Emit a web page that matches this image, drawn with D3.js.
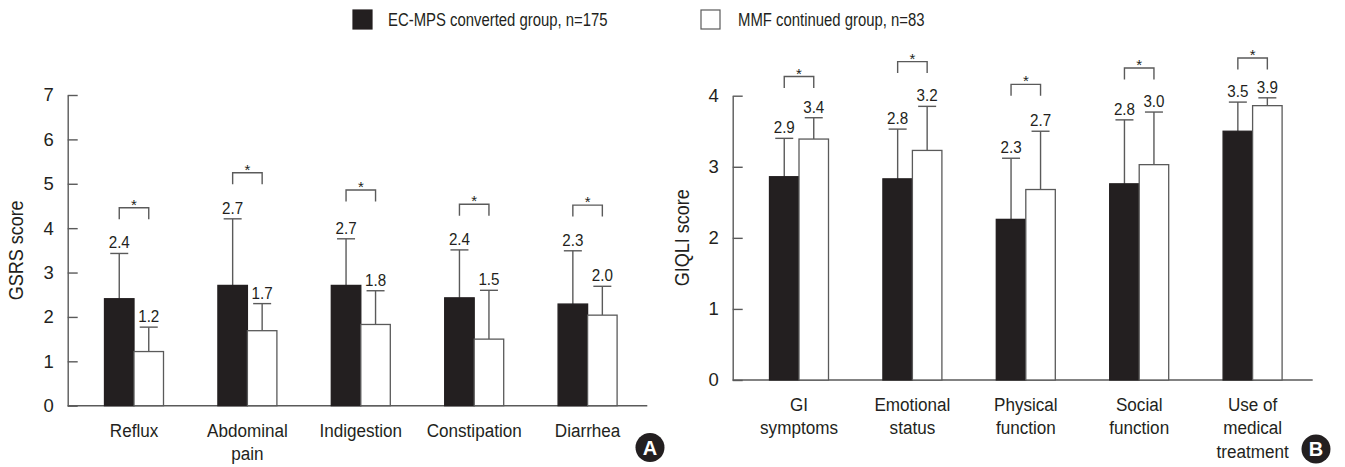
<!DOCTYPE html>
<html>
<head>
<meta charset="utf-8">
<script src="https://cdn.jsdelivr.net/npm/d3@7.9.0/dist/d3.min.js"></script>
<style>
  html, body { margin: 0; padding: 0; background: #fff; }
  svg { display: block; }
  text { font-family: "Liberation Sans", Arial, Helvetica, sans-serif; fill: #231f20; }
</style>
</head>
<body>
<svg id="chart" width="1345" height="467"></svg>
<script>
// legend
const seriesNames = ['EC-MPS converted group, n=175', 'MMF continued group, n=83'];

// panel A: GSRS
const gsrsCats = ['Reflux', 'Abdominal\npain', 'Indigestion', 'Constipation', 'Diarrhea'];
const gsrsEC = [2.41, 2.71, 2.71, 2.43, 2.29];
const gsrsEcSD = [1.02, 1.50, 1.05, 1.08, 1.20];
const gsrsMMF = [1.22, 1.69, 1.83, 1.50, 2.04];
const gsrsMmfSD = [0.55, 0.61, 0.76, 1.10, 0.65];
const gsrsSig = [4.46, 5.25, 4.86, 4.54, 4.52];
const gsrsTicks = [0, 1, 2, 3, 4, 5, 6, 7];

// panel B: GIQLI
const giqliCats = ['GI\nsymptoms', 'Emotional\nstatus', 'Physical\nfunction', 'Social\nfunction', 'Use of\nmedical\ntreatment'];
const giqliEC = [2.86, 2.83, 2.26, 2.76, 3.50];
const giqliEcSD = [0.54, 0.70, 0.86, 0.90, 0.41];
const giqliMMF = [3.39, 3.23, 2.68, 3.03, 3.86];
const giqliMmfSD = [0.30, 0.62, 0.82, 0.74, 0.11];
const giqliSig = [4.27, 4.48, 4.16, 4.39, 4.53];
const giqliTicks = [0, 1, 2, 3, 4];

const dark = '#231f20';
const grey = '#5a5a5a';
const svg = d3.select('#chart');

function drawPanel(p) {
  const g = svg.append('g');
  const y = d3.scaleLinear().domain([0, p.max]).range([p.bottom, p.top]);
  const x = d3.scaleBand().domain(p.cats).range(p.bandRange);
  const sub = d3.scaleBand().domain(['ec', 'mmf']).range([0, 59]);

  // y axis, ticks pointing inward
  const yAxis = g.append('g')
    .attr('transform', `translate(${p.axisX},0)`)
    .call(d3.axisLeft(y).tickValues(p.ticks).tickFormat(d3.format('d'))
      .tickSizeInner(-10).tickSizeOuter(0).tickPadding(14));
  yAxis.selectAll('path, line').attr('stroke', grey).attr('stroke-width', 1.4);
  yAxis.selectAll('text').style('font-size', '18.5px').attr('fill', dark);

  // x axis line
  g.append('line')
    .attr('x1', p.axisX).attr('x2', p.axisEnd)
    .attr('y1', y(0)).attr('y2', y(0))
    .attr('stroke', grey).attr('stroke-width', 1.6);

  g.append('text')
    .attr('transform', `translate(${p.titleX},${(y(0) + y(p.max)) / 2}) rotate(-90) scale(0.9,1)`)
    .attr('text-anchor', 'middle')
    .attr('dy', '0.35em')
    .style('font-size', '20px')
    .text(p.title);

  const rows = p.cats.map((c, i) => ({
    cat: c,
    bars: [
      { key: 'ec', v: p.ec[i], sd: p.ecSD[i] },
      { key: 'mmf', v: p.mmf[i], sd: p.mmfSD[i] }
    ],
    sig: p.sig[i]
  }));

  const groups = g.selectAll('.grp')
    .data(rows)
    .enter()
    .append('g')
    .attr('transform', d => `translate(${x(d.cat) + x.bandwidth() / 2 - 29.5},0)`);

  const bars = groups.selectAll('.bar')
    .data(d => d.bars)
    .enter()
    .append('g');

  const mid = d => sub(d.key) + sub.bandwidth() / 2;

  // error bars first so the bar covers the lower half
  bars.append('line')
    .attr('x1', mid).attr('x2', mid)
    .attr('y1', d => y(d.v))
    .attr('y2', d => y(d.v + d.sd))
    .attr('stroke', grey).attr('stroke-width', 1.4);
  bars.append('line')
    .attr('x1', d => mid(d) - 9)
    .attr('x2', d => mid(d) + 9)
    .attr('y1', d => y(d.v + d.sd))
    .attr('y2', d => y(d.v + d.sd))
    .attr('stroke', grey).attr('stroke-width', 1.4);

  bars.append('rect')
    .attr('x', d => sub(d.key))
    .attr('width', sub.bandwidth())
    .attr('y', d => y(d.v))
    .attr('height', d => y(0) - y(d.v))
    .attr('fill', d => d.key === 'ec' ? dark : '#fff')
    .attr('stroke', d => d.key === 'ec' ? dark : grey)
    .attr('stroke-width', 1.3);

  bars.append('text')
    .attr('transform', d => `translate(${mid(d)},${y(d.v + d.sd) - 5}) scale(0.95,1)`)
    .attr('text-anchor', 'middle')
    .style('font-size', '16px')
    .text(d => d.v.toFixed(1));

  // significance brackets
  const c1 = sub('ec') + sub.bandwidth() / 2;
  const c2 = sub('mmf') + sub.bandwidth() / 2;
  groups.append('path')
    .attr('d', d => `M${c1},${y(d.sig) + 11.5}V${y(d.sig)}H${c2}V${y(d.sig) + 11.5}`)
    .attr('fill', 'none')
    .attr('stroke', grey).attr('stroke-width', 1.4);
  groups.append('text')
    .attr('x', (c1 + c2) / 2)
    .attr('y', d => y(d.sig) + 2)
    .attr('text-anchor', 'middle')
    .style('font-size', '15px')
    .text('*');

  // category labels
  const lab = g.selectAll('.cat')
    .data(p.cats)
    .enter()
    .append('text')
    .attr('text-anchor', 'middle')
    .style('font-size', '19px')
    .attr('transform', d => `translate(${x(d) + x.bandwidth() / 2},${y(0) + 31}) scale(0.9,1)`);
  lab.selectAll('tspan')
    .data(d => d.split('\n'))
    .enter()
    .append('tspan')
    .attr('x', 0)
    .attr('y', (d, i) => i * 23.5)
    .text(d => d);

  // panel badge
  g.append('circle')
    .attr('cx', p.badge[0]).attr('cy', p.badge[1]).attr('r', 14.5)
    .attr('fill', dark);
  g.append('text')
    .attr('x', p.badge[0]).attr('y', p.badge[1])
    .attr('dy', '0.36em')
    .attr('text-anchor', 'middle')
    .style('font-size', '20px')
    .style('font-weight', 'bold')
    .style('fill', '#fff')
    .text(p.letter);
}

drawPanel({
  cats: gsrsCats, ec: gsrsEC, ecSD: gsrsEcSD, mmf: gsrsMMF, mmfSD: gsrsMmfSD, sig: gsrsSig,
  ticks: gsrsTicks, max: 7, top: 95, bottom: 405.7,
  axisX: 67.7, axisEnd: 647.3, bandRange: [77.3, 644.3],
  title: 'GSRS score', titleX: 16, badge: [650, 447.5], letter: 'A'
});

drawPanel({
  cats: giqliCats, ec: giqliEC, ecSD: giqliEcSD, mmf: giqliMMF, mmfSD: giqliMmfSD, sig: giqliSig,
  ticks: giqliTicks, max: 4, top: 95.7, bottom: 380,
  axisX: 732.7, axisEnd: 1312.7, bandRange: [742.3, 1309.3],
  title: 'GIQLI score', titleX: 682, badge: [1316, 449], letter: 'B'
});

// legend
const legendX = [353, 701];
const leg = svg.selectAll('.leg')
  .data(seriesNames)
  .enter()
  .append('g')
  .attr('transform', (d, i) => `translate(${legendX[i]},10)`);
leg.append('rect')
  .attr('width', 19).attr('height', 19)
  .attr('fill', (d, i) => i === 0 ? dark : '#fff')
  .attr('stroke', (d, i) => i === 0 ? dark : grey)
  .attr('stroke-width', 1.2);
leg.append('text')
  .attr('transform', (d, i) => `translate(${i === 0 ? 35 : 37},10) scale(0.805,1)`)
  .attr('dy', '0.34em')
  .style('font-size', '18.5px')
  .text(d => d);
</script>
</body>
</html>
